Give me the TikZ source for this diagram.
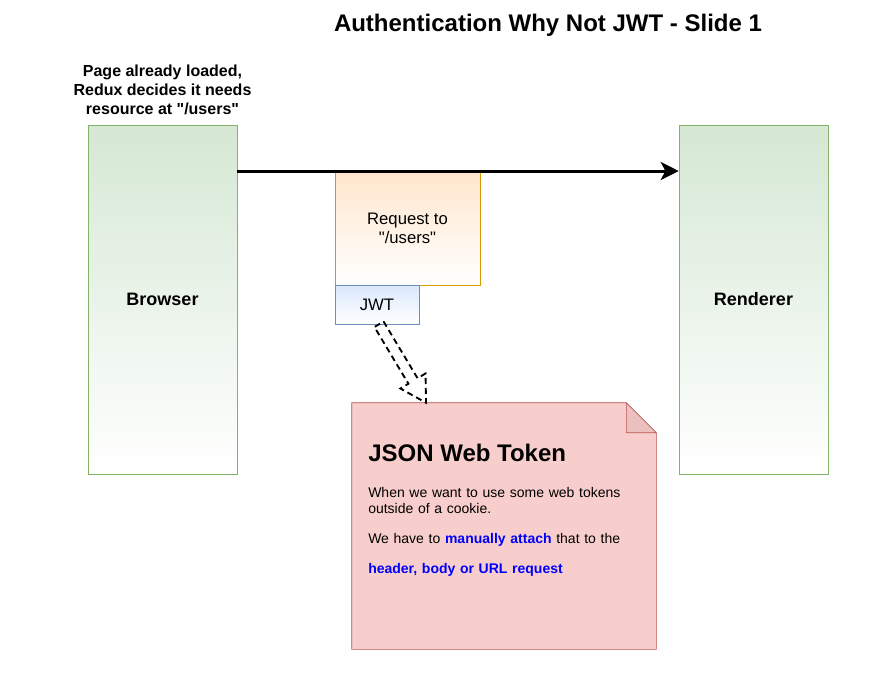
\documentclass[tikz,border=0pt]{standalone}
\usepackage{fontspec}
\setmainfont{Liberation Sans}
\usetikzlibrary{calc, positioning, arrows.meta}
\definecolor{greenfill}{HTML}{D5E8D4}
\definecolor{greenline}{HTML}{82B366}
\definecolor{orangefill}{HTML}{FFE6CC}
\definecolor{orangeline}{HTML}{D79B00}
\definecolor{bluefill}{HTML}{DAE8FC}
\definecolor{blueline}{HTML}{6C8EBF}
\definecolor{redfill}{HTML}{F8CECC}
\definecolor{redline}{HTML}{B85450}
\definecolor{foldfill}{HTML}{EBC0BF}
\definecolor{linkblue}{HTML}{0000FF}

\begin{document}
\begin{tikzpicture}[x=0.75pt,y=-0.75pt,
    every node/.style={inner sep=0pt},
    tier/.style={draw=greenline, top color=greenfill, bottom color=white, minimum width=111.75pt, minimum height=261.75pt, font=\fontsize{13.5}{16}\selectfont\bfseries},
    request/.style={draw=orangeline, top color=orangefill, bottom color=white, minimum width=108.75pt, minimum height=84.75pt, align=center, font=\fontsize{12.5}{14.5}\selectfont},
    token/.style={draw=blueline, top color=bluefill, bottom color=white, minimum width=63pt, minimum height=29.25pt, font=\fontsize{12.5}{14}\selectfont},
    caption/.style={align=center, font=\fontsize{12}{14.25}\selectfont\bfseries}]
    \useasboundingbox (0,0) rectangle (890,693);

    \node[font=\fontsize{18}{21}\selectfont\bfseries] (title) at (548,25) {Authentication Why Not JWT - Slide 1};

    \node[tier] (browser) at (162.5,299.5) {Browser};
    \node[tier] (renderer) at (753.5,299.5) {Renderer};
    \node[caption, above=7pt of browser] (step) {Page already loaded,\\Redux decides it needs\\resource at \textquotedbl/users\textquotedbl};

    \node[request] (req) at (407.5,228.5) {Request to\\\textquotedbl/users\textquotedbl};
    \node[token] (jwt) at (377,304.5) {JWT};

    \draw[-{Stealth[length=13.5pt,width=13.5pt,inset=3.5pt]}, line width=2.25pt]
        (browser.east |- 0,171) -- (renderer.west |- 0,171);

    % note with folded corner
    \node[minimum width=228pt, minimum height=184.5pt] (note) at (504,526) {};
    \draw[redline, fill=redfill] (note.north west) -- ($(note.north east)+(-30,0)$)
        -- ($(note.north east)+(0,30)$) -- (note.south east) -- (note.south west) -- cycle;
    \draw[redline, fill=foldfill] ($(note.north east)+(-30,0)$) -- ($(note.north east)+(-30,30)$)
        -- ($(note.north east)+(0,30)$) -- cycle;
    \node[anchor=west, font=\fontsize{18}{20}\selectfont\bfseries] (head) at (368,453) {JSON Web Token};
    \node[anchor=north west, text width=190pt, font=\fontsize{10.5}{12}\selectfont] (body) at (368,487)
        {When we want to use some web tokens outside of a cookie.\par\vspace{10.5pt}
         We have to \textbf{\color{linkblue}manually attach} that to the\par\vspace{10.5pt}
         \textbf{\color{linkblue}header, body or URL request}};

    % dashed block arrow
    \coordinate (s) at (jwt.south -| 379,0);
    \coordinate (t) at (note.north -| 426,0);
    \coordinate (hb) at ($(t)!19pt!(s)$);
    \draw[dashed, line width=1.4pt, dash pattern=on 4.5pt off 3pt]
        ($(s)!4pt!90:(t)$) -- ($(hb)!4pt!90:(t)$) -- ($(hb)!11pt!90:(t)$) -- (t)
        -- ($(hb)!11pt!-90:(t)$) -- ($(hb)!4pt!-90:(t)$) -- ($(s)!4pt!-90:(t)$) -- cycle;
\end{tikzpicture}
\end{document}
